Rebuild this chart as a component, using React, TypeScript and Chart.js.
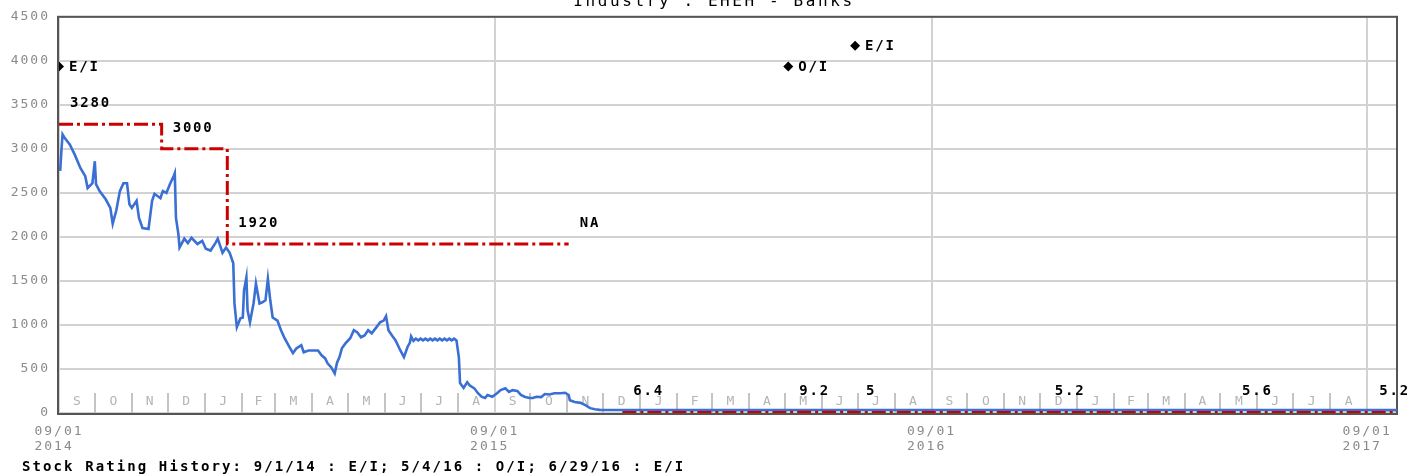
import React, { useEffect, useRef } from 'react';
import { Chart, registerables } from 'chart.js';

Chart.register(...registerables);

const chartTitle = 'Industry : EHEH - Banks';
const axisStart = '2014-09-01';
const axisEnd = '2017-09-26';
const yMax = 4500;
const yStep = 500;

const yearTickDates = ['2014-09-01', '2015-09-01', '2016-09-01', '2017-09-01'];
const yearTickLabels = [['09/01', '2014 '], ['09/01', '2015 '], ['09/01', '2016 '], ['09/01', '2017 ']];

const monthStartDates = [
  '2014-09-01', '2014-10-01', '2014-11-01', '2014-12-01', '2015-01-01', '2015-02-01', '2015-03-01', '2015-04-01',
  '2015-05-01', '2015-06-01', '2015-07-01', '2015-08-01', '2015-09-01', '2015-10-01', '2015-11-01', '2015-12-01',
  '2016-01-01', '2016-02-01', '2016-03-01', '2016-04-01', '2016-05-01', '2016-06-01', '2016-07-01', '2016-08-01',
  '2016-09-01', '2016-10-01', '2016-11-01', '2016-12-01', '2017-01-01', '2017-02-01', '2017-03-01', '2017-04-01',
  '2017-05-01', '2017-06-01', '2017-07-01', '2017-08-01', '2017-09-01',
];
const monthLetters = [
  'S', 'O', 'N', 'D', 'J', 'F', 'M', 'A', 'M', 'J', 'J', 'A',
  'S', 'O', 'N', 'D', 'J', 'F', 'M', 'A', 'M', 'J', 'J', 'A',
  'S', 'O', 'N', 'D', 'J', 'F', 'M', 'A', 'M', 'J', 'J', 'A',
];

const priceDates = [
  '2014-09-02', '2014-09-03', '2014-09-04', '2014-09-06', '2014-09-10', '2014-09-14', '2014-09-19', '2014-09-23',
  '2014-09-25', '2014-09-29', '2014-10-01', '2014-10-02', '2014-10-05', '2014-10-10', '2014-10-14', '2014-10-16',
  '2014-10-19', '2014-10-22', '2014-10-25', '2014-10-28', '2014-10-30', '2014-11-01', '2014-11-05', '2014-11-07',
  '2014-11-10', '2014-11-15', '2014-11-18', '2014-11-20', '2014-11-25', '2014-11-27', '2014-11-30', '2014-12-03',
  '2014-12-06', '2014-12-07', '2014-12-08', '2014-12-10', '2014-12-11', '2014-12-15', '2014-12-18', '2014-12-21',
  '2014-12-26', '2014-12-30', '2015-01-02', '2015-01-06', '2015-01-10', '2015-01-12', '2015-01-16', '2015-01-19',
  '2015-01-22', '2015-01-25', '2015-01-26', '2015-01-28', '2015-01-31', '2015-02-02', '2015-02-03', '2015-02-05',
  '2015-02-06', '2015-02-08', '2015-02-11', '2015-02-13', '2015-02-16', '2015-02-18', '2015-02-21', '2015-02-23',
  '2015-02-25', '2015-02-27', '2015-03-03', '2015-03-06', '2015-03-09', '2015-03-13', '2015-03-16', '2015-03-19',
  '2015-03-23', '2015-03-25', '2015-03-29', '2015-04-02', '2015-04-06', '2015-04-09', '2015-04-12', '2015-04-14',
  '2015-04-17', '2015-04-20', '2015-04-22', '2015-04-24', '2015-04-26', '2015-04-29', '2015-05-03', '2015-05-06',
  '2015-05-09', '2015-05-12', '2015-05-15', '2015-05-18', '2015-05-21', '2015-05-25', '2015-05-28', '2015-05-31',
  '2015-06-02', '2015-06-04', '2015-06-07', '2015-06-10', '2015-06-14', '2015-06-17', '2015-06-20', '2015-06-22',
  '2015-06-23', '2015-06-25', '2015-06-27', '2015-06-29', '2015-07-01', '2015-07-03', '2015-07-05', '2015-07-07',
  '2015-07-09', '2015-07-11', '2015-07-13', '2015-07-15', '2015-07-17', '2015-07-19', '2015-07-21', '2015-07-23',
  '2015-07-25', '2015-07-27', '2015-07-29', '2015-07-31', '2015-08-02', '2015-08-03', '2015-08-06', '2015-08-09',
  '2015-08-11', '2015-08-15', '2015-08-18', '2015-08-21', '2015-08-24', '2015-08-26', '2015-08-30', '2015-09-03',
  '2015-09-06', '2015-09-10', '2015-09-13', '2015-09-16', '2015-09-20', '2015-09-23', '2015-09-26', '2015-09-30',
  '2015-10-03', '2015-10-06', '2015-10-10', '2015-10-13', '2015-10-17', '2015-10-21', '2015-10-26', '2015-10-30',
  '2015-11-02', '2015-11-03', '2015-11-07', '2015-11-12', '2015-11-16', '2015-11-20', '2015-11-24', '2015-11-28',
  '2015-12-10', '2016-03-01', '2016-08-01', '2017-01-01', '2017-06-01', '2017-09-26',
];
const priceValues = [
  2750, 2980, 3165, 3120, 3050, 2940, 2780, 2690,
  2555, 2610, 2860, 2600, 2520, 2430, 2330, 2150,
  2300, 2520, 2610, 2610, 2370, 2330, 2410, 2215,
  2100, 2090, 2410, 2490, 2440, 2520, 2500, 2600,
  2690, 2725, 2215, 2035, 1880, 1980, 1930, 1990,
  1920, 1955, 1865, 1845, 1930, 1980, 1820, 1880,
  1820, 1700, 1245, 975, 1075, 1085, 1390, 1540,
  1165, 1030, 1245, 1470, 1245, 1255, 1280, 1525,
  1280, 1085, 1050, 940, 850, 750, 680, 735,
  770, 690, 710, 710, 710, 655, 620, 565,
  520, 450, 575, 635, 735, 790, 850, 940,
  915, 860, 880, 940, 905, 975, 1030, 1050,
  1100, 940, 880, 825, 710, 635, 750, 800,
  870, 820, 845, 825, 845, 825, 845, 825,
  845, 825, 845, 825, 845, 825, 845, 825,
  845, 825, 845, 825, 635, 340, 285, 350,
  315, 280, 225, 185, 170, 205, 185, 225,
  260, 280, 240, 260, 250, 205, 185, 170,
  170, 185, 180, 215, 210, 225, 225, 230,
  205, 145, 125, 115, 90, 55, 42, 36,
  34, 33, 34, 33, 34, 33,
];

const targetDates = [
  '2014-09-01', '2014-11-26', '2015-01-20', '2015-11-02', '2015-12-17',
  '2016-05-04', '2016-06-29', '2016-12-04', '2017-05-10', '2017-09-02',
];
const targetValues: (number | null)[] = [3280, 3000, 1920, null, 6.4, 9.2, 5, 5.2, 5.6, 5.2];
const targetLabels = ['3280', '3000', '1920', 'NA', '6.4', '9.2', '5', '5.2', '5.6', '5.2'];

const ratingDates = ['2014-09-01', '2016-05-04', '2016-06-29'];
const ratingShortDates = ['9/1/14', '5/4/16', '6/29/16'];
const ratingCodes = ['E/I', 'O/I', 'E/I'];
const ratingMarkerLevels = [3935, 3935, 4170];

const MONO = "'DejaVu Sans Mono', 'Liberation Mono', monospace";

function dayOf(s: string): number {
  const [y, m, d] = s.split('-').map(Number);
  const [y0, m0, d0] = axisStart.split('-').map(Number);
  return Math.round((Date.UTC(y, m - 1, d) - Date.UTC(y0, m0 - 1, d0)) / 86400000);
}

export default function App() {
  const ref = useRef<HTMLCanvasElement | null>(null);

  useEffect(() => {
    document.body.style.margin = '0';
    const canvas = ref.current;
    if (!canvas) return;

    const priceData = priceDates.map((d, i) => ({ x: dayOf(d), y: priceValues[i] }));

    const targetData: { x: number; y: number | null }[] = [];
    const targetAnchors: { x: number; y: number; label: string }[] = [];
    targetDates.forEach((d, i) => {
      const v = targetValues[i];
      if (v === null) {
        const prev = targetValues[i - 1] as number;
        targetData.push({ x: dayOf(d), y: prev });
        targetData.push({ x: dayOf(d) + 1, y: null });
        targetAnchors.push({ x: dayOf(d), y: prev, label: targetLabels[i] });
      } else {
        targetData.push({ x: dayOf(d), y: v });
        targetAnchors.push({ x: dayOf(d), y: v, label: targetLabels[i] });
      }
    });
    const lastTarget = targetValues[targetValues.length - 1] as number;
    targetData.push({ x: dayOf(axisEnd), y: lastTarget });

    const ratingData = ratingDates.map((d, i) => ({ x: dayOf(d), y: ratingMarkerLevels[i] }));
    const footer =
      'Stock Rating History: ' + ratingShortDates.map((d, i) => `${d} : ${ratingCodes[i]}`).join('; ');

    const yearDays = yearTickDates.map(dayOf);

    const setSpacing = (chart: any) => {
      (chart.ctx as any).letterSpacing = '2px';
    };

    const decor = {
      id: 'decor',
      beforeUpdate: setSpacing,
      beforeDraw: setSpacing,
      beforeDatasetsDraw(chart: any) {
        const { ctx, chartArea } = chart;
        const xs = chart.scales.x;
        ctx.save();
        ctx.strokeStyle = '#c4c4c4';
        ctx.lineWidth = 2;
        monthStartDates.forEach((d, i) => {
          if (i === 0 || d.endsWith('-09-01')) return;
          const px = Math.round(xs.getPixelForValue(dayOf(d)));
          ctx.beginPath();
          ctx.moveTo(px, chartArea.bottom - 20);
          ctx.lineTo(px, chartArea.bottom);
          ctx.stroke();
        });
        ctx.fillStyle = '#b4b4b4';
        ctx.font = `13px ${MONO}`;
        (ctx as any).letterSpacing = '0px';
        ctx.textAlign = 'center';
        ctx.textBaseline = 'middle';
        monthLetters.forEach((l, i) => {
          const a = xs.getPixelForValue(dayOf(monthStartDates[i]));
          const b = xs.getPixelForValue(dayOf(monthStartDates[i + 1]));
          ctx.fillText(l, (a + b) / 2, chartArea.bottom - 11);
        });
        ctx.strokeStyle = '#555555';
        ctx.lineWidth = 2;
        ctx.strokeRect(chartArea.left - 1, chartArea.top, chartArea.right - chartArea.left + 1, chartArea.bottom - chartArea.top + 1);
        ctx.restore();
      },
      afterDatasetsDraw(chart: any) {
        const { ctx } = chart;
        const xs = chart.scales.x;
        const ys = chart.scales.y;
        ctx.save();
        ctx.fillStyle = '#000';
        ctx.font = `bold 14px ${MONO}`;
        (ctx as any).letterSpacing = '1.8px';
        ctx.textAlign = 'left';
        ctx.textBaseline = 'middle';
        targetAnchors.forEach((a) => {
          ctx.fillText(a.label, xs.getPixelForValue(a.x) + 11, ys.getPixelForValue(a.y) - 21);
        });
        ratingData.forEach((r, i) => {
          ctx.fillText(ratingCodes[i], xs.getPixelForValue(r.x) + 10, ys.getPixelForValue(r.y) + 1);
        });
        ctx.textBaseline = 'alphabetic';
        (ctx as any).letterSpacing = '2.1px';
        ctx.fillText(footer, 22, 471);
        ctx.font = `16px ${MONO}`;
        (ctx as any).letterSpacing = '2.6px';
        ctx.textAlign = 'center';
        ctx.fillText(chartTitle, 714, 6);
        ctx.restore();
      },
    };

    const chart = new Chart(canvas, {
      type: 'line',
      data: {
        datasets: [
          {
            label: 'Rating',
            data: ratingData,
            showLine: false,
            pointStyle: 'rectRot',
            pointRadius: 5,
            pointBackgroundColor: '#000',
            pointBorderColor: '#000',
            pointBorderWidth: 0,
          },
          {
            label: 'Target',
            data: targetData,
            stepped: 'before',
            borderColor: '#cc0000',
            borderWidth: 3,
            borderDash: [14, 4, 3, 4],
            pointRadius: 0,
            spanGaps: false,
            fill: false,
          },
          {
            label: 'Price',
            data: priceData,
            borderColor: '#3a6fd4',
            borderWidth: 2.6,
            pointRadius: 0,
            tension: 0,
            fill: false,
          },
        ],
      } as any,
      options: {
        animation: false,
        responsive: false,
        maintainAspectRatio: false,
        layout: { padding: { top: 15, right: 26, left: 0, bottom: 0 } },
        plugins: {
          legend: { display: false },
          tooltip: { enabled: false },
          title: { display: false },
        },
        scales: {
          x: {
            type: 'linear',
            min: 0,
            max: dayOf(axisEnd),
            afterBuildTicks: (s: any) => {
              s.ticks = yearDays.map((v) => ({ value: v }));
            },
            afterFit: (s: any) => {
              s.height = 62;
            },
            grid: { color: '#d2d2d2', lineWidth: 2, drawTicks: false },
            border: { display: false },
            ticks: {
              autoSkip: false,
              maxRotation: 0,
              minRotation: 0,
              padding: 11,
              color: '#8a8a8a',
              font: { family: MONO, size: 13, lineHeight: 1.15 },
              callback: (v: any) => {
                const i = yearDays.indexOf(Number(v));
                return i >= 0 ? yearTickLabels[i] : '';
              },
            },
          },
          y: {
            min: 0,
            max: yMax,
            afterFit: (s: any) => {
              s.width = 59;
            },
            grid: { color: '#d2d2d2', lineWidth: 2, drawTicks: false },
            border: { display: false },
            ticks: {
              stepSize: yStep,
              padding: 9,
              color: '#8a8a8a',
              font: { family: MONO, size: 13 },
              callback: (v: any) => String(v),
            },
          },
        },
      } as any,
      plugins: [decor],
    });

    return () => chart.destroy();
  }, []);

  return (
    <div style={{ width: 1423, height: 475, position: 'relative' }}>
      <canvas ref={ref} width={1423} height={475} style={{ display: 'block', width: 1423, height: 475 }} />
    </div>
  );
}
